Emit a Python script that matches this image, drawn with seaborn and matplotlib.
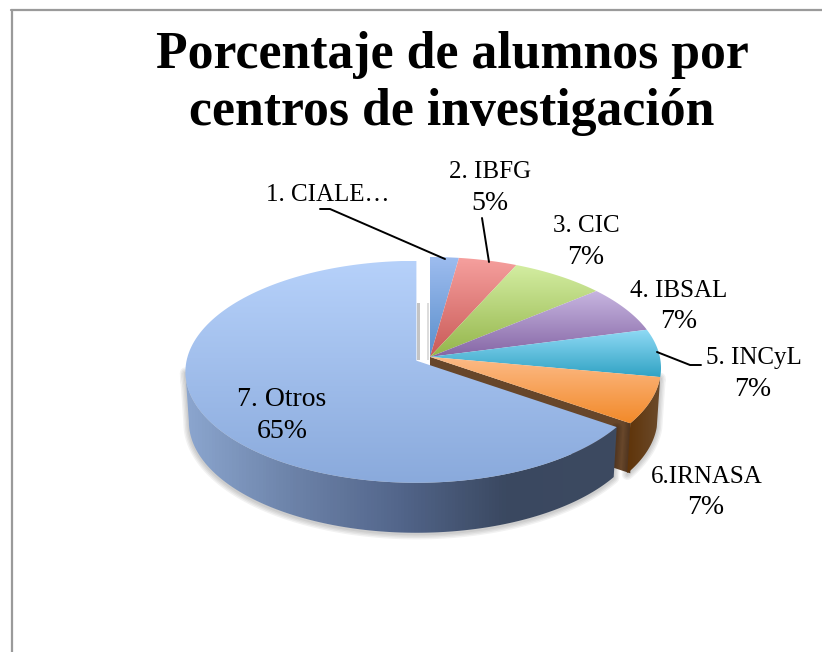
#!/usr/bin/env python3
"""
Porcentaje de alumnos por centros de investigación - tarta con efecto 3D
"""

import seaborn as sns
import matplotlib.pyplot as plt
import numpy as np
from matplotlib.lines import Line2D
from matplotlib.patches import Polygon

# datos
centros = ["1. CIALE…", "2. IBFG", "3. CIC", "4. IBSAL", "5. INCyL", "6.IRNASA", "7. Otros"]
etiquetas_pct = ["", "5%", "7%", "7%", "7%", "7%", "65%"]
cuotas = [2.0, 4.1, 6.7, 6.6, 6.9, 7.0, 66.7]  # medidas sobre el dibujo
separacion = [0, 0, 0, 0, 0, 0, 0.068]

# colores (arriba, abajo) de cada porción
colores_sup = ["#9dbcef", "#f6a09e", "#d3eda1", "#c7b5e0", "#90daf5", "#fdbb88", "#b6d1fa"]
colores_inf = ["#5b8fcb", "#c95a57", "#94b54b", "#8566a5", "#31a3c4", "#f28a2a", "#8aaadc"]
lateral_otros = ["#8ba6cf", "#6c82a8", "#52658a", "#3a4860", "#3d4a60"]
lateral_irnasa = ["#5f3409", "#6b4a2b"]

# posiciones en píxeles de la imagen
W, H = 822, 652
CX, CY, RX, RY = 430, 368, 231, 111
PROF = 50 / RY
ELEV = 0.1  # el vértice queda algo por encima del centro de la elipse

sns.set_theme(style="white")
plt.rcParams["font.family"] = ["Liberation Serif", "DejaVu Serif"]

fig = plt.figure(figsize=(W / 100, H / 100), dpi=100)
ax = fig.add_axes([0, 0, 1, 1])
wedges, _ = ax.pie(cuotas, explode=separacion, startangle=90, counterclock=False, radius=1)
ax.set_aspect("auto")
ax.set_xlim(-CX / RX, (W - CX) / RX)
ax.set_ylim((CY - H) / RY, CY / RY)
ax.set_autoscale_on(False)
ax.axis("off")
for w in wedges:
    w.set_visible(False)


def px(x, y):
    return (x - CX) / RX, (CY - y) / RY


def borde(w, a, b, baja=0.0, esc=1.0):
    ang = np.radians(np.linspace(a, b, 160))
    return np.c_[w.center[0] + esc * w.r * np.cos(ang), w.center[1] + w.r * np.sin(ang) - baja]


def vertice(w):
    return np.array([[w.center[0], w.center[1] + ELEV]])


def relleno(puntos, colores, z, vertical=True):
    # degradado recortado a la forma
    cmap = sns.blend_palette(colores, n_colors=128, as_cmap=True)
    grad = np.linspace(0, 1, 128)
    grad = grad[:, None] if vertical else grad[None, :]
    x0, y0 = puntos.min(axis=0)
    x1, y1 = puntos.max(axis=0)
    forma = Polygon(puntos, closed=True, fc="none", ec="none", transform=ax.transData)
    ax.add_patch(forma)
    im = ax.imshow(grad, cmap=cmap, extent=(x0, x1, y0, y1), origin="upper", aspect="auto", zorder=z)
    im.set_clip_path(forma)


def lateral(w, colores, z):
    a, b = max(w.theta1, -180), min(w.theta2, 0)
    arriba = borde(w, a, b)
    abajo = borde(w, a, b, PROF, 0.985)[::-1]
    puntos = np.vstack([arriba, abajo])
    for lw in [2, 4, 6, 8]:  # sombra difusa
        ax.add_patch(Polygon(puntos + [0, -0.01], closed=True, fc="none", ec="black",
                             lw=lw, alpha=0.05, joinstyle="round", zorder=z - 1))
    relleno(puntos, colores, z, vertical=False)


irnasa, otros = wedges[5], wedges[6]

# pared interior y lateral de 6.IRNASA
fin = borde(irnasa, irnasa.theta1, irnasa.theta1)[:1]
pared = np.vstack([vertice(irnasa), fin, fin - [0, PROF], vertice(irnasa) - [0, PROF]])
ax.add_patch(Polygon(pared, closed=True, fc="#67462a", ec="none", zorder=2))
lateral(irnasa, lateral_irnasa, 3)

# caras superiores de las porciones pequeñas
for i, w in enumerate(wedges[:6]):
    relleno(np.vstack([vertice(w), borde(w, w.theta1, w.theta2)]), [colores_sup[i], colores_inf[i]], 4)

# 7. Otros por delante
lateral(otros, lateral_otros, 6)
relleno(np.vstack([vertice(otros), borde(otros, otros.theta1, otros.theta2)]),
        [colores_sup[6], colores_inf[6]], 7)

# sombra en la ranura entre Otros y el resto
for x0, x1, c in [(417, 420, "#c4c4c4"), (427, 429, "#dcdcdc")]:
    esquinas = [px(x0, 303), px(x1, 303), px(x1, 360), px(x0, 360)]
    ax.add_patch(Polygon(esquinas, closed=True, fc=c, ec="none", zorder=5))

# líneas guía
guias = [[(320, 209), (330, 209), (445, 259)],
         [(482, 218), (489, 262)],
         [(657, 352), (690, 365), (701, 365)]]
for g in guias:
    xs, ys = zip(*[px(*p) for p in g])
    ax.plot(xs, ys, color="black", lw=1.4, zorder=8)

# textos
pos_nombre = [(328, 195), (490, 172), (586, 226), (679, 291), (754, 358), (707, 477), (282, 400)]
pos_pct = [None, (490, 203), (586, 257), (679, 322), (753, 389), (706, 508), (282, 431)]
tam_nombre = [18, 18, 18, 18, 18, 18, 20]
for nombre, pct, pn, pp, tam in zip(centros, etiquetas_pct, pos_nombre, pos_pct, tam_nombre):
    fig.text(pn[0] / W, 1 - pn[1] / H, nombre, ha="center", va="center", fontsize=tam, color="black")
    if pp:
        fig.text(pp[0] / W, 1 - pp[1] / H, pct, ha="center", va="center", fontsize=20, color="black")

fig.text(452 / W, 1 - 55 / H, "Porcentaje de alumnos por", ha="center", va="center",
         fontsize=37.3, fontweight="bold", color="black")
fig.text(452 / W, 1 - 112 / H, "centros de investigación", ha="center", va="center",
         fontsize=37.3, fontweight="bold", color="black")

# marco (cortado por la derecha y por abajo)
fig.add_artist(Line2D([11.5 / W, 11.5 / W], [0, 1 - 10 / H], color="#9a9a9a", lw=1.6))
fig.add_artist(Line2D([11 / W, 1], [1 - 10 / H, 1 - 10 / H], color="#9a9a9a", lw=1.6))

fig.savefig("out.png", dpi=100)
